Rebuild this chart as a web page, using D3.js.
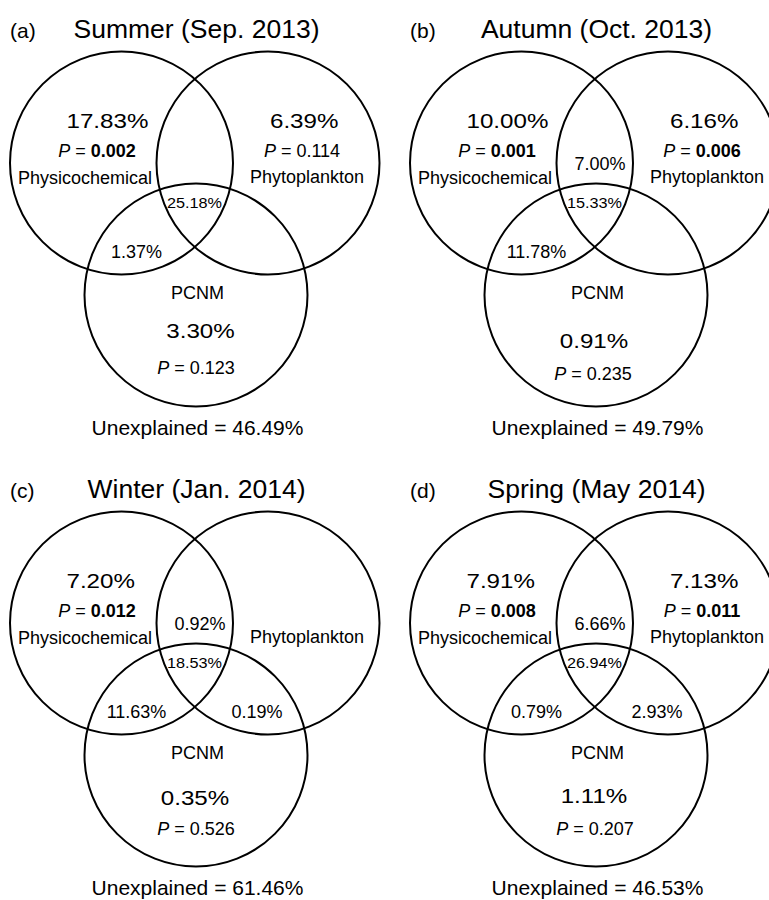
<!DOCTYPE html>
<html>
<head>
<meta charset="utf-8">
<script src="https://cdn.jsdelivr.net/npm/d3@7"></script>
<style>
  body { margin: 0; background: #fff; }
  svg { display: block; }
  text { font-family: "Liberation Sans", Arial, Helvetica, sans-serif; fill: #000; }
</style>
</head>
<body>
<svg id="chart" width="769" height="900"></svg>
<script>
// Variation partitioning (%) of the three explanatory sets, one entry per season
const panelTags   = ["(a)", "(b)", "(c)", "(d)"];
const seasons     = ["Summer (Sep. 2013)", "Autumn (Oct. 2013)", "Winter (Jan. 2014)", "Spring (May 2014)"];
const setNames    = ["Physicochemical", "Phytoplankton", "PCNM"];

// unique fractions; null = not displayed
const physicoOnly  = [17.83, 10.00, 7.20, 7.91];
const phytoOnly    = [6.39, 6.16, null, 7.13];
const pcnmOnly     = [3.30, 0.91, 0.35, 1.11];
// shared fractions
const physicoPhyto = [null, 7.00, 0.92, 6.66];
const physicoPcnm  = [1.37, 11.78, 11.63, 0.79];
const phytoPcnm    = [null, null, 0.19, 2.93];
const allThree     = [25.18, 15.33, 18.53, 26.94];
const unexplained  = [46.49, 49.79, 61.46, 46.53];
// permutation test P values for the unique fractions
const pPhysico = [0.002, 0.001, 0.012, 0.008];
const pPhyto   = [0.114, 0.006, null, 0.011];
const pPcnm    = [0.123, 0.235, 0.526, 0.207];

const ALPHA = 0.05;

// ---- layout ----
const svg = d3.select("#chart");
const colX = d3.scaleOrdinal().domain([0, 1]).range([0, 400]);
const rowY = d3.scaleOrdinal().domain([0, 1]).range([0, 460]);

// circle placement inside a panel
const circleLayout = [
  { cx: 121.5, cy: 163 },
  { cx: 268,   cy: 163 },
  { cx: 196,   cy: 295 }
];
const R = 111.5;

// small per-panel placement of the PCNM fraction and its P value
const pcnmValuePos = [[200.5, 338], [194, 348], [195, 345], [194, 343]];
const pcnmPPos     = [[196, 374],   [193, 380], [196, 375], [195, 375]];

const pct  = v => d3.format(".2f")(v) + "%";
const pFmt = d3.format(".3f");

function label(g, x, y, str, opt = {}) {
  const sx = opt.sx || 1;
  return g.append("text")
    .attr("transform", `translate(${x},${y}) scale(${sx},1)`)
    .attr("text-anchor", opt.anchor || "middle")
    .style("font-size", (opt.size || 18) + "px")
    .style("font-weight", opt.weight || "normal")
    .text(str);
}

function pLabel(g, x, y, p) {
  const t = g.append("text")
    .attr("x", x).attr("y", y)
    .attr("text-anchor", "middle")
    .style("font-size", "18px");
  t.append("tspan").style("font-style", "italic").text("P");
  t.append("tspan").text(" = ");
  t.append("tspan").style("font-weight", p < ALPHA ? "bold" : "normal").text(pFmt(p));
}

const panels = svg.selectAll("g.panel")
  .data(d3.range(seasons.length))
  .join("g")
  .attr("class", "panel")
  .attr("transform", i => `translate(${colX(i % 2)},${rowY(Math.floor(i / 2))})`);

panels.each(function (i) {
  const g = d3.select(this);

  // circles
  g.selectAll("circle")
    .data(circleLayout)
    .join("circle")
    .attr("cx", d => d.cx)
    .attr("cy", d => d.cy)
    .attr("r", R)
    .attr("fill", "none")
    .attr("stroke", "#000")
    .attr("stroke-width", 2);

  // headings
  label(g, 10, 38, panelTags[i], { anchor: "start", size: 21 });
  label(g, 196.5, 38, seasons[i], { size: 26.5 });

  // Physicochemical
  label(g, 66.5, 128, pct(physicoOnly[i]), { anchor: "start", size: 21, sx: 1.15 });
  pLabel(g, 97, 157, pPhysico[i]);
  label(g, 85, 184, setNames[0]);

  // Phytoplankton
  if (phytoOnly[i] != null) label(g, 270, 128, pct(phytoOnly[i]), { anchor: "start", size: 21, sx: 1.15 });
  if (pPhyto[i] != null) pLabel(g, 302, 157, pPhyto[i]);
  label(g, 307, 183, setNames[1]);

  // shared fractions
  if (physicoPhyto[i] != null) label(g, 200, 170, pct(physicoPhyto[i]));
  label(g, 194.5, 208, pct(allThree[i]), { size: 14.5, sx: 1.12 });
  if (physicoPcnm[i] != null) label(g, 136.5, 258, pct(physicoPcnm[i]));
  if (phytoPcnm[i] != null) label(g, 257, 258, pct(phytoPcnm[i]));

  // PCNM
  label(g, 197.5, 299, setNames[2]);
  label(g, pcnmValuePos[i][0], pcnmValuePos[i][1], pct(pcnmOnly[i]), { size: 21, sx: 1.15 });
  pLabel(g, pcnmPPos[i][0], pcnmPPos[i][1], pPcnm[i]);

  // residual
  label(g, 197.5, 435, "Unexplained = " + pct(unexplained[i]), { size: 21 });
});
</script>
</body>
</html>
